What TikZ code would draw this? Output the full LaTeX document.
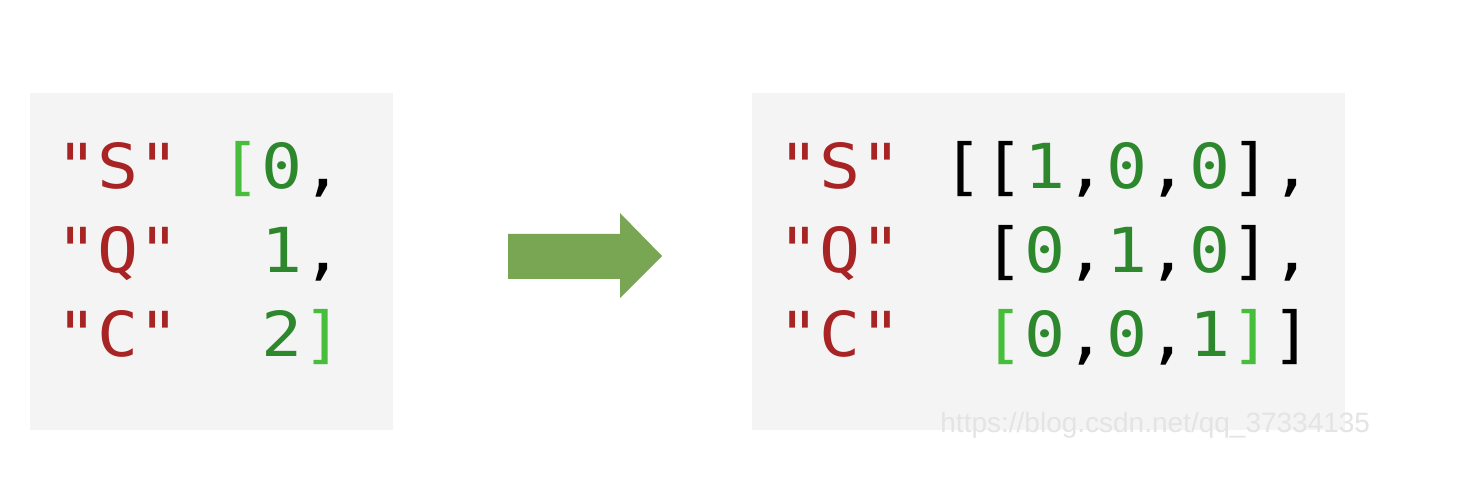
\documentclass[tikz,border=0pt]{standalone}
\usepackage{fontspec}
\newfontfamily\codefont[FakeStretch=1.1]{DejaVu Sans Mono}
\newfontfamily\markfont{Liberation Sans}
\usepackage{tikz}
\usetikzlibrary{calc, positioning}

\definecolor{boxgray}{RGB}{244,244,244}
\definecolor{strred}{RGB}{168,36,36}
\definecolor{numgreen}{RGB}{45,135,45}
\definecolor{brkgreen}{RGB}{70,190,60}
\definecolor{arrowgreen}{RGB}{120,166,82}
\definecolor{markgray}{RGB}{228,228,228}

\newcommand{\strc}[1]{\textcolor{strred}{#1}}
\newcommand{\numc}[1]{\textcolor{numgreen}{#1}}
\newcommand{\brkc}[1]{\textcolor{brkgreen}{#1}}

\tikzset{
  coderow/.style={anchor=base west, inner sep=0pt, font=\codefont\fontsize{31}{38}\selectfont, text=black},
  codebox/.style={fill=boxgray, draw=none}
}

\begin{document}
\begin{tikzpicture}[x=0.5pt, y=-0.5pt]
            %左邊是整數編碼, 右邊是 one-hot 編碼
            \useasboundingbox (0,0) rectangle (1476,496);
            \fill[white] (0,0) rectangle (1476,496);

            \coordinate (LeftTL) at (30,93);
            \coordinate (LeftBR) at (393,430);
            \coordinate (RightTL) at (752,93);
            \coordinate (RightBR) at (1345,430);

            \fill[codebox] (LeftTL) rectangle (LeftBR);
            \fill[codebox] (RightTL) rectangle (RightBR);

            \node[coderow] (LeftRowS) at (56,189) {\strc{"S"}~\brkc{[}\numc{0},};
            \node[coderow] (LeftRowQ) at (56,273) {\strc{"Q"}~~\numc{1},};
            \node[coderow] (LeftRowC) at (56,357) {\strc{"C"}~~\numc{2}\brkc{]}};

            \node[coderow] (RightRowS) at (778,189) {\strc{"S"}~[[\numc{1},\numc{0},\numc{0}],};
            \node[coderow] (RightRowQ) at (778,273) {\strc{"Q"}~~[\numc{0},\numc{1},\numc{0}],};
            \node[coderow] (RightRowC) at (778,357) {\strc{"C"}~~\brkc{[}\numc{0},\numc{0},\numc{1}\brkc{]}]};

            \coordinate (ShaftTop) at (508,234);
            \coordinate (ShaftBot) at (508,279);
            \coordinate (HeadTop) at (620,213);
            \coordinate (HeadBot) at (620,298);
            \coordinate (HeadTip) at (662,256);

            \fill[arrowgreen] (ShaftTop) -- (ShaftTop -| HeadTop) -- (HeadTop) -- (HeadTip)
            -- (HeadBot) -- (ShaftBot -| HeadBot) -- (ShaftBot) -- cycle;

            \node[anchor=base west, inner sep=0pt, text=markgray, font=\markfont\fontsize{14}{17}\selectfont]
            (WaterMark) at (940,432) {https://blog.csdn.net/qq\_37334135};
\end{tikzpicture}
\end{document}
